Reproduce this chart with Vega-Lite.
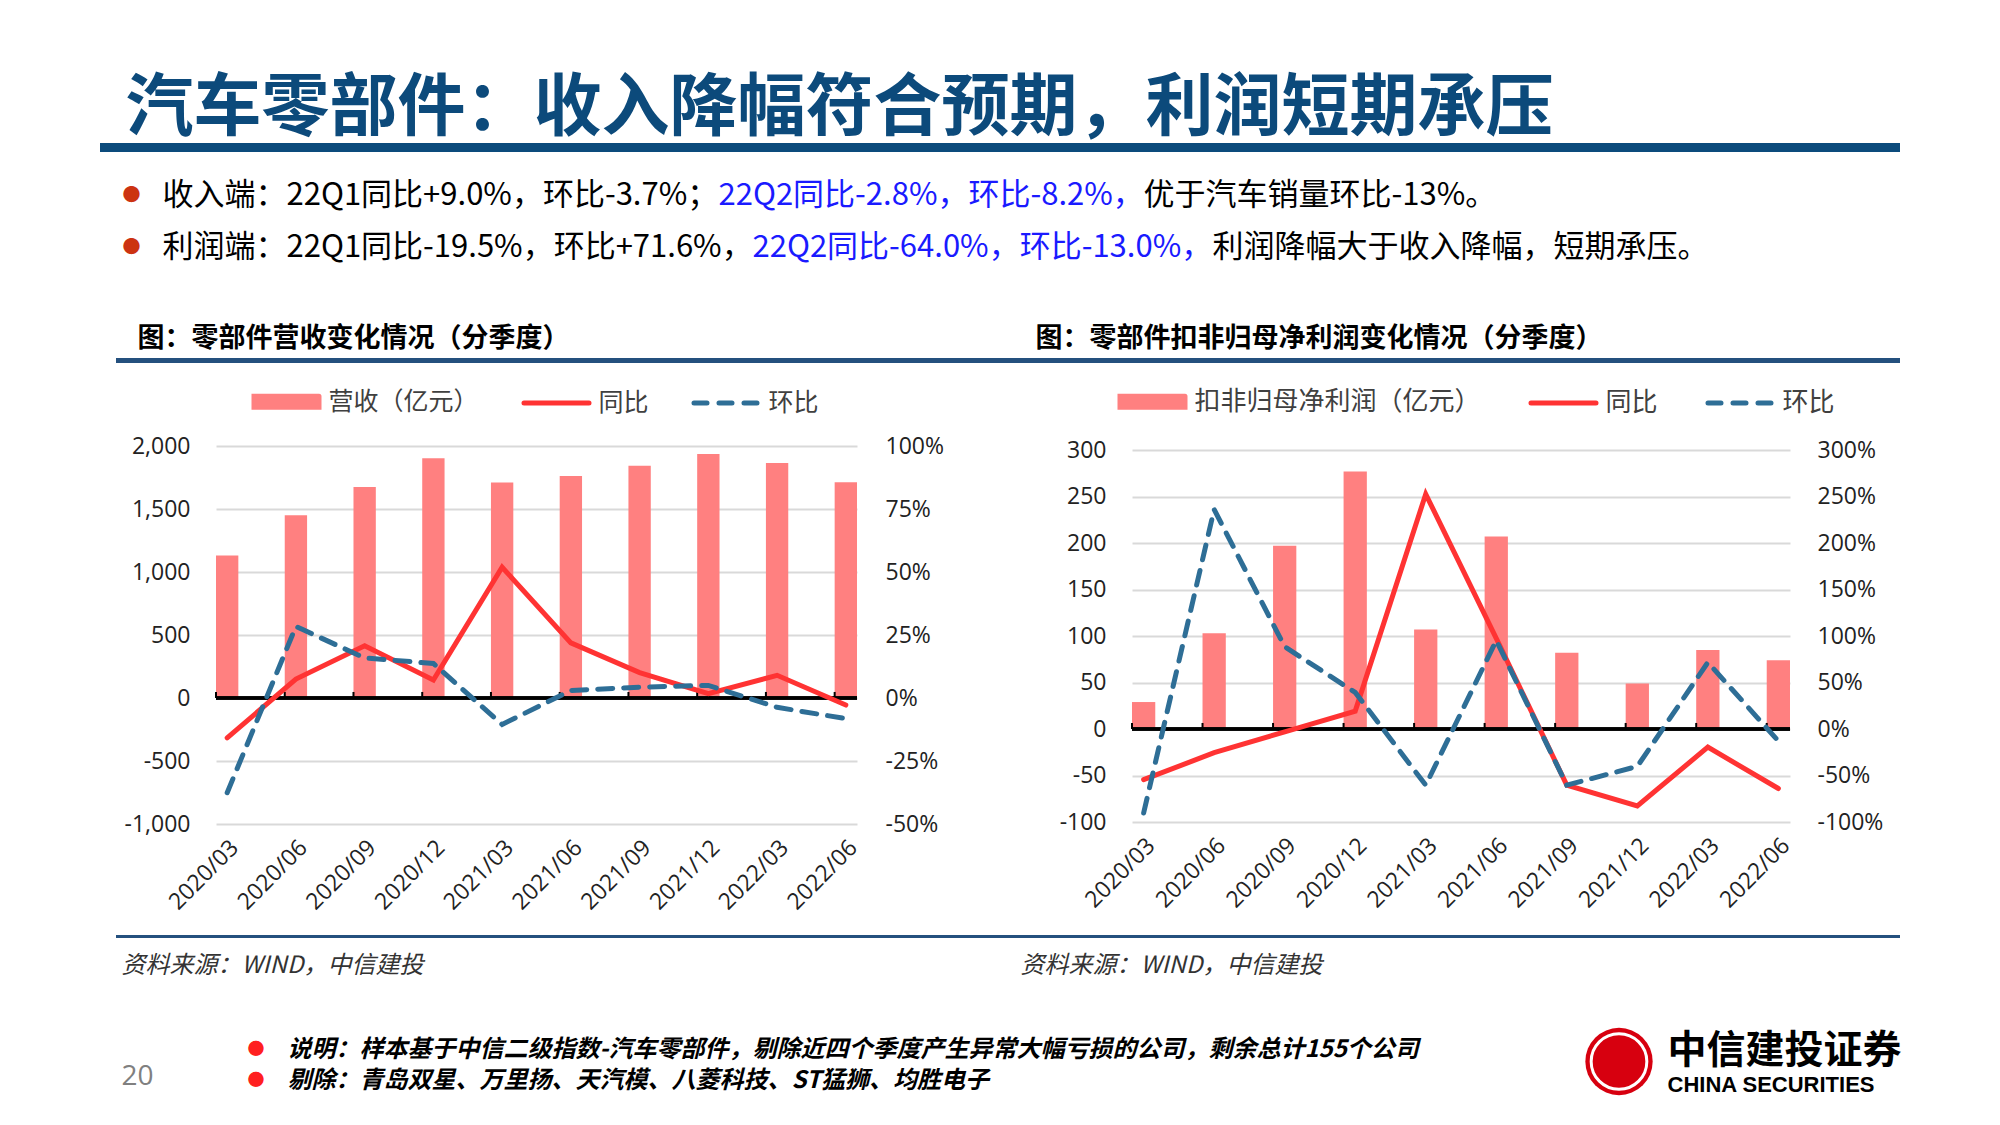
{
  "$schema": "https://vega.github.io/schema/vega-lite/v6.json",
  "background": "#ffffff",
  "padding": {"left": 100, "top": 0, "right": 0, "bottom": 0},
  "config": {"view": {"stroke": null}, "font": "Noto Sans CJK SC"},
  "spacing": 0,
  "bounds": "flush",
  "resolve": {"scale": {"color": "independent"}, "legend": {"color": "independent"}},
  "vconcat": [
    {"width": 1900, "height": 84, "data": {"values": [{}]}, "mark": {"type": "text", "text": ""}},
    {"spacing": 0, "bounds": "flush", "hconcat": [
      {"width": 25, "height": 52, "data": {"values": [{}]}, "mark": {"type": "text", "text": ""}},
      {"width": 1, "height": 52, "data": {"values": [{"t": "汽车零部件：收入降幅符合预期，利润短期承压"}]},
       "mark": {"type": "text", "align": "left", "baseline": "middle", "font": "Noto Sans CJK SC", "fontSize": 68, "fontWeight": "bold", "color": "#0c4a7b"},
       "encoding": {"text": {"field": "t", "type": "nominal"}}}
    ]},
    {"width": 1, "height": 59, "data": {"values": [{}]}, "mark": {"type": "text", "text": ""}},
    {"width": 1800, "height": 9, "data": {"values": [{}]}, "mark": {"type": "text", "text": ""}, "view": {"fill": "#0c4b7c", "stroke": null}},
    {"width": 1, "height": 29, "data": {"values": [{}]}, "mark": {"type": "text", "text": ""}},
    {"spacing": 0, "bounds": "flush", "hconcat": [
      {"width": 25, "height": 30, "data": {"values": [{}]}, "mark": {"type": "text", "text": ""}},
      {"width": 13, "height": 30, "data": {"values": [{"t": "●"}]},
       "mark": {"type": "text", "align": "center", "baseline": "middle", "fontSize": 18, "color": "#cc3311"},
       "encoding": {"text": {"field": "t", "type": "nominal"}}},
      {"width": 24, "height": 30, "data": {"values": [{}]}, "mark": {"type": "text", "text": ""}},
      {"width": 1, "height": 30, "data": {"values": [{"t": "收入端：22Q1同比+9.0%，环比-3.7%；"}]},
       "mark": {"type": "text", "align": "left", "baseline": "middle", "fontSize": 31, "color": "#000000"},
       "encoding": {"text": {"field": "t", "type": "nominal"}}},
      {"width": 555, "height": 30, "data": {"values": [{}]}, "mark": {"type": "text", "text": ""}},
      {"width": 1, "height": 30, "data": {"values": [{"t": "22Q2同比-2.8%，环比-8.2%，"}]},
       "mark": {"type": "text", "align": "left", "baseline": "middle", "fontSize": 31, "color": "#1a1aff"},
       "encoding": {"text": {"field": "t", "type": "nominal"}}},
      {"width": 424, "height": 30, "data": {"values": [{}]}, "mark": {"type": "text", "text": ""}},
      {"width": 1, "height": 30, "data": {"values": [{"t": "优于汽车销量环比-13%。"}]},
       "mark": {"type": "text", "align": "left", "baseline": "middle", "fontSize": 31, "color": "#000000"},
       "encoding": {"text": {"field": "t", "type": "nominal"}}}
    ]},
    {"width": 1, "height": 52, "data": {"values": [{}]}, "mark": {"type": "text", "text": ""}},
    {"spacing": 0, "bounds": "flush", "hconcat": [
      {"width": 25, "height": 30, "data": {"values": [{}]}, "mark": {"type": "text", "text": ""}},
      {"width": 13, "height": 30, "data": {"values": [{"t": "●"}]},
       "mark": {"type": "text", "align": "center", "baseline": "middle", "fontSize": 18, "color": "#cc3311"},
       "encoding": {"text": {"field": "t", "type": "nominal"}}},
      {"width": 24, "height": 30, "data": {"values": [{}]}, "mark": {"type": "text", "text": ""}},
      {"width": 1, "height": 30, "data": {"values": [{"t": "利润端：22Q1同比-19.5%，环比+71.6%，"}]},
       "mark": {"type": "text", "align": "left", "baseline": "middle", "fontSize": 31, "color": "#000000"},
       "encoding": {"text": {"field": "t", "type": "nominal"}}},
      {"width": 589, "height": 30, "data": {"values": [{}]}, "mark": {"type": "text", "text": ""}},
      {"width": 1, "height": 30, "data": {"values": [{"t": "22Q2同比-64.0%，环比-13.0%，"}]},
       "mark": {"type": "text", "align": "left", "baseline": "middle", "fontSize": 31, "color": "#1a1aff"},
       "encoding": {"text": {"field": "t", "type": "nominal"}}},
      {"width": 459, "height": 30, "data": {"values": [{}]}, "mark": {"type": "text", "text": ""}},
      {"width": 1, "height": 30, "data": {"values": [{"t": "利润降幅大于收入降幅，短期承压。"}]},
       "mark": {"type": "text", "align": "left", "baseline": "middle", "fontSize": 31, "color": "#000000"},
       "encoding": {"text": {"field": "t", "type": "nominal"}}}
    ]},
    {"width": 1, "height": 91, "data": {"values": [{}]}, "mark": {"type": "text", "text": ""}},
    {"spacing": 0, "bounds": "flush", "hconcat": [
      {"width": 37, "height": 30, "data": {"values": [{}]}, "mark": {"type": "text", "text": ""}},
      {"width": 1, "height": 30, "data": {"values": [{"t": "图：零部件营收变化情况（分季度）"}]},
       "mark": {"type": "text", "align": "left", "baseline": "middle", "fontSize": 27, "fontWeight": "bold", "color": "#000000"},
       "encoding": {"text": {"field": "t", "type": "nominal"}}},
      {"width": 897, "height": 30, "data": {"values": [{}]}, "mark": {"type": "text", "text": ""}},
      {"width": 1, "height": 30, "data": {"values": [{"t": "图：零部件扣非归母净利润变化情况（分季度）"}]},
       "mark": {"type": "text", "align": "left", "baseline": "middle", "fontSize": 27, "fontWeight": "bold", "color": "#000000"},
       "encoding": {"text": {"field": "t", "type": "nominal"}}}
    ]},
    {"width": 1, "height": 34, "data": {"values": [{}]}, "mark": {"type": "text", "text": ""}},
    {"spacing": 0, "bounds": "flush", "hconcat": [
      {"width": 16, "height": 5, "data": {"values": [{}]}, "mark": {"type": "text", "text": ""}},
      {"width": 1784, "height": 5, "data": {"values": [{}]}, "mark": {"type": "text", "text": ""}, "view": {"fill": "#24507e", "stroke": null}}
    ]},
    {"width": 1, "height": 88, "data": {"values": [{}]}, "mark": {"type": "text", "text": ""}},
    {"spacing": 0, "bounds": "flush",
     "resolve": {"scale": {"color": "independent"}, "legend": {"color": "independent"}},
     "hconcat": [
      {"width": 116, "height": 1, "data": {"values": [{}]}, "mark": {"type": "text", "text": ""}},
      {"width": 641, "height": 378,
       "data": {"values": [
         {"q": "2020/03", "rev": 1130, "同比": -0.158, "环比": -0.376},
         {"q": "2020/06", "rev": 1450, "同比": 0.075, "环比": 0.284},
         {"q": "2020/09", "rev": 1675, "同比": 0.207, "环比": 0.159},
         {"q": "2020/12", "rev": 1902, "同比": 0.071, "环比": 0.137},
         {"q": "2021/03", "rev": 1711, "同比": 0.519, "环比": -0.105},
         {"q": "2021/06", "rev": 1761, "同比": 0.219, "环比": 0.030},
         {"q": "2021/09", "rev": 1844, "同比": 0.101, "环比": 0.043},
         {"q": "2021/12", "rev": 1937, "同比": 0.017, "环比": 0.050},
         {"q": "2022/03", "rev": 1865, "同比": 0.090, "环比": -0.037},
         {"q": "2022/06", "rev": 1712, "同比": -0.028, "环比": -0.082}
       ]},
       "layer": [
         {"layer": [
           {"mark": {"type": "bar"},
            "encoding": {
              "x": {"field": "q", "type": "nominal", "sort": null,
                    "scale": {"paddingInner": 0.675, "paddingOuter": 0},
                    "axis": {"title": null, "labelAngle": -45, "labelFont": "Open Sans", "labelFontSize": 23, "labelColor": "#222222", "ticks": false, "domain": false, "labelPadding": 12, "grid": false}},
              "y": {"field": "rev", "type": "quantitative",
                    "scale": {"domain": [-1000, 2000], "nice": false, "zero": false},
                    "axis": {"title": null, "orient": "left", "values": [-1000, -500, 0, 500, 1000, 1500, 2000], "labelExpr": "replace(format(datum.value, ','), '−', '-')",
                             "labelFont": "Open Sans", "labelFontSize": 23, "labelColor": "#222222", "grid": true, "gridColor": "#d9d9d9", "gridWidth": 2, "domain": false, "ticks": false, "labelPadding": 26}},
              "color": {"datum": "营收（亿元）",
                        "scale": {"domain": ["营收（亿元）", "同比", "环比"], "range": ["#ff8080", "#ff3333", "#2e6e96"]},
                        "legend": {"orient": "none", "legendX": 35.5, "legendY": -79.5, "direction": "horizontal", "title": null,
                                   "symbolType": "stroke", "symbolSize": 4225, "symbolStrokeWidth": 5,
                                   "labelFont": "Noto Sans CJK SC", "labelFontSize": 25, "labelColor": "#404040", "labelOffset": 7, "labelLimit": 400, "columnPadding": 34,
                                   "encode": {"symbols": {"update": {
                                     "shape": {"signal": "((datum.value === '同比' || datum.value === '环比') ? 'stroke' : 'M-1,-0.17H1V0.17H-1Z')"},
                                     "fill": {"signal": "((datum.value === '同比' || datum.value === '环比') ? 'transparent' : '#ff8080')"},
                                     "stroke": {"signal": "(datum.value === '同比' ? '#ff3333' : datum.value === '环比' ? '#2e6e96' : 'transparent')"},
                                     "strokeWidth": {"value": 5},
                                     "strokeDash": {"signal": "(datum.value === '环比' ? [13, 12] : [1, 0])"},
                                     "strokeCap": {"value": "round"},
                                     "opacity": {"value": 1}}}}}}
            }},
           {"mark": {"type": "rule", "color": "#000000", "strokeWidth": 2.5}, "encoding": {"y": {"datum": 0}}},
           {"mark": {"type": "rule", "color": "#000000", "strokeWidth": 2},
            "encoding": {"x": {"field": "q", "type": "nominal", "sort": null, "bandPosition": 0}, "y": {"datum": 0}, "y2": {"datum": 48}}}
         ]},
         {"layer": [
           {"mark": {"type": "line", "strokeWidth": 5, "strokeCap": "round"},
            "encoding": {
              "x": {"field": "q", "type": "nominal", "sort": null},
              "y": {"field": "同比", "type": "quantitative",
                    "scale": {"domain": [-0.5, 1], "nice": false, "zero": false},
                    "axis": {"title": null, "orient": "right", "values": [-0.5, -0.25, 0, 0.25, 0.5, 0.75, 1], "labelExpr": "replace(format(datum.value, '.0%'), '−', '-')",
                             "labelFont": "Open Sans", "labelFontSize": 23, "labelColor": "#222222", "grid": false, "domain": false, "ticks": false, "labelPadding": 28}},
              "color": {"datum": "同比"}}},
           {"mark": {"type": "line", "strokeWidth": 5, "strokeCap": "round", "strokeDash": [15, 11]},
            "encoding": {
              "x": {"field": "q", "type": "nominal", "sort": null},
              "y": {"field": "环比", "type": "quantitative"},
              "color": {"datum": "环比"}}}
         ]}
       ],
       "resolve": {"scale": {"y": "independent"}}},
      {"width": 275, "height": 1, "data": {"values": [{}]}, "mark": {"type": "text", "text": ""}},
      {"spacing": 0, "bounds": "flush", "vconcat": [
        {"width": 1, "height": 4, "data": {"values": [{}]}, "mark": {"type": "text", "text": ""}},
        {"width": 658, "height": 372,
         "data": {"values": [
           {"q": "2020/03", "np": 29, "同比": -0.545, "环比": -0.903},
           {"q": "2020/06", "np": 103, "同比": -0.255, "环比": 2.36},
           {"q": "2020/09", "np": 197, "同比": -0.031, "环比": 0.885},
           {"q": "2020/12", "np": 277, "同比": 0.192, "环比": 0.393},
           {"q": "2021/03", "np": 107, "同比": 2.526, "环比": -0.604},
           {"q": "2021/06", "np": 207, "同比": 0.975, "环比": 0.952},
           {"q": "2021/09", "np": 82, "同比": -0.604, "环比": -0.604},
           {"q": "2021/12", "np": 49, "同比": -0.827, "环比": -0.402},
           {"q": "2022/03", "np": 85, "同比": -0.195, "环比": 0.716},
           {"q": "2022/06", "np": 74, "同比": -0.640, "环比": -0.130}
         ]},
         "layer": [
           {"layer": [
             {"mark": {"type": "bar"},
              "encoding": {
                "x": {"field": "q", "type": "nominal", "sort": null,
                      "scale": {"paddingInner": 0.67, "paddingOuter": 0},
                      "axis": {"title": null, "labelAngle": -45, "labelFont": "Open Sans", "labelFontSize": 23, "labelColor": "#222222", "ticks": false, "domain": false, "labelPadding": 12, "grid": false}},
                "y": {"field": "np", "type": "quantitative",
                      "scale": {"domain": [-100, 300], "nice": false, "zero": false},
                      "axis": {"title": null, "orient": "left", "values": [-100, -50, 0, 50, 100, 150, 200, 250, 300], "labelExpr": "replace(format(datum.value, 'd'), '−', '-')",
                               "labelFont": "Open Sans", "labelFontSize": 23, "labelColor": "#222222", "grid": true, "gridColor": "#d9d9d9", "gridWidth": 2, "domain": false, "ticks": false, "labelPadding": 26}},
                "color": {"datum": "扣非归母净利润（亿元）",
                          "scale": {"domain": ["扣非归母净利润（亿元）", "同比", "环比"], "range": ["#ff8080", "#ff3333", "#2e6e96"]},
                          "legend": {"orient": "none", "legendX": -14.5, "legendY": -79.5, "direction": "horizontal", "title": null,
                                     "symbolType": "stroke", "symbolSize": 4225, "symbolStrokeWidth": 5,
                                     "labelFont": "Noto Sans CJK SC", "labelFontSize": 26, "labelColor": "#404040", "labelOffset": 7, "labelLimit": 400, "columnPadding": 39,
                                     "encode": {"symbols": {"update": {
                                       "shape": {"signal": "((datum.value === '同比' || datum.value === '环比') ? 'stroke' : 'M-1,-0.17H1V0.17H-1Z')"},
                                       "fill": {"signal": "((datum.value === '同比' || datum.value === '环比') ? 'transparent' : '#ff8080')"},
                                       "stroke": {"signal": "(datum.value === '同比' ? '#ff3333' : datum.value === '环比' ? '#2e6e96' : 'transparent')"},
                                       "strokeWidth": {"value": 5},
                                       "strokeDash": {"signal": "(datum.value === '环比' ? [13, 12] : [1, 0])"},
                                       "strokeCap": {"value": "round"},
                                       "opacity": {"value": 1}}}}}}
              }},
             {"mark": {"type": "rule", "color": "#000000", "strokeWidth": 2.5}, "encoding": {"y": {"datum": 0}}},
             {"mark": {"type": "rule", "color": "#000000", "strokeWidth": 2},
              "encoding": {"x": {"field": "q", "type": "nominal", "sort": null, "bandPosition": 0}, "y": {"datum": 0}, "y2": {"datum": 6.5}}}
           ]},
           {"layer": [
             {"mark": {"type": "line", "strokeWidth": 5, "strokeCap": "round"},
              "encoding": {
                "x": {"field": "q", "type": "nominal", "sort": null},
                "y": {"field": "同比", "type": "quantitative",
                      "scale": {"domain": [-1, 3], "nice": false, "zero": false},
                      "axis": {"title": null, "orient": "right", "values": [-1, -0.5, 0, 0.5, 1, 1.5, 2, 2.5, 3], "labelExpr": "replace(format(datum.value, '.0%'), '−', '-')",
                               "labelFont": "Open Sans", "labelFontSize": 23, "labelColor": "#222222", "grid": false, "domain": false, "ticks": false, "labelPadding": 27}},
                "color": {"datum": "同比"}}},
             {"mark": {"type": "line", "strokeWidth": 5, "strokeCap": "round", "strokeDash": [15, 11]},
              "encoding": {
                "x": {"field": "q", "type": "nominal", "sort": null},
                "y": {"field": "环比", "type": "quantitative"},
                "color": {"datum": "环比"}}}
           ]}
         ],
         "resolve": {"scale": {"y": "independent"}}}
      ]}
    ]},
    {"width": 1, "height": 489, "data": {"values": [{}]}, "mark": {"type": "text", "text": ""}},
    {"spacing": 0, "bounds": "flush", "hconcat": [
      {"width": 16, "height": 3, "data": {"values": [{}]}, "mark": {"type": "text", "text": ""}},
      {"width": 1784, "height": 3, "data": {"values": [{}]}, "mark": {"type": "text", "text": ""}, "view": {"fill": "#24507e", "stroke": null}}
    ]},
    {"width": 1, "height": 18, "data": {"values": [{}]}, "mark": {"type": "text", "text": ""}},
    {"spacing": 0, "bounds": "flush", "hconcat": [
      {"width": 21, "height": 26, "data": {"values": [{}]}, "mark": {"type": "text", "text": ""}},
      {"width": 1, "height": 26, "data": {"values": [{"t": "资料来源：WIND，中信建投"}]},
       "mark": {"type": "text", "align": "left", "baseline": "middle", "fontSize": 24, "fontStyle": "italic", "color": "#333333"},
       "encoding": {"text": {"field": "t", "type": "nominal"}}},
      {"width": 898, "height": 26, "data": {"values": [{}]}, "mark": {"type": "text", "text": ""}},
      {"width": 1, "height": 26, "data": {"values": [{"t": "资料来源：WIND，中信建投"}]},
       "mark": {"type": "text", "align": "left", "baseline": "middle", "fontSize": 24, "fontStyle": "italic", "color": "#333333"},
       "encoding": {"text": {"field": "t", "type": "nominal"}}}
    ]},
    {"width": 1, "height": 81, "data": {"values": [{}]}, "mark": {"type": "text", "text": ""}},
    {"spacing": 0, "bounds": "flush", "hconcat": [
      {"width": 21, "height": 85, "data": {"values": [{}]}, "mark": {"type": "text", "text": ""}},
      {"width": 1, "height": 85, "data": {"values": [{"t": "20"}]},
       "mark": {"type": "text", "align": "left", "baseline": "middle", "font": "Open Sans", "fontSize": 28, "color": "#808080"},
       "encoding": {"text": {"field": "t", "type": "nominal"}}},
      {"width": 128, "height": 85, "data": {"values": [{}]}, "mark": {"type": "text", "text": ""}},
      {"width": 12, "height": 62, "data": {"values": [{"line": 1}, {"line": 2}]},
       "mark": {"type": "text", "text": "●", "align": "center", "baseline": "middle", "fontSize": 17, "color": "#ff2020"},
       "encoding": {"y": {"field": "line", "type": "ordinal", "scale": {"type": "point", "padding": 0.5}, "axis": null}}},
      {"width": 25, "height": 85, "data": {"values": [{}]}, "mark": {"type": "text", "text": ""}},
      {"width": 1, "height": 62, "data": {"values": [
         {"line": 1, "t": "说明：样本基于中信二级指数-汽车零部件，剔除近四个季度产生异常大幅亏损的公司，剩余总计155个公司"},
         {"line": 2, "t": "剔除：青岛双星、万里扬、天汽模、八菱科技、ST猛狮、均胜电子"}]},
       "mark": {"type": "text", "align": "left", "baseline": "middle", "fontSize": 24, "fontWeight": "bold", "fontStyle": "italic", "color": "#000000"},
       "encoding": {"y": {"field": "line", "type": "ordinal", "scale": {"type": "point", "padding": 0.5}, "axis": null}, "text": {"field": "t", "type": "nominal"}}},
      {"width": 1293, "height": 85, "data": {"values": [{}]}, "mark": {"type": "text", "text": ""}},
      {"width": 76, "height": 55, "data": {"values": [{}]},
       "layer": [
         {"mark": {"type": "point", "shape": "circle", "filled": true, "color": "#d7000f", "opacity": 1, "size": 4530}},
         {"mark": {"type": "point", "shape": "circle", "filled": false, "color": "#ffffff", "opacity": 1, "strokeWidth": 3, "size": 3100}}
       ]},
      {"width": 10, "height": 85, "data": {"values": [{}]}, "mark": {"type": "text", "text": ""}},
      {"spacing": 0, "bounds": "flush", "vconcat": [
        {"width": 1, "height": 33, "data": {"values": [{"t": "中信建投证券"}]},
         "mark": {"type": "text", "align": "left", "baseline": "middle", "fontSize": 39, "fontWeight": "bold", "color": "#000000"},
         "encoding": {"text": {"field": "t", "type": "nominal"}}},
        {"width": 1, "height": 35, "data": {"values": [{"t": "CHINA SECURITIES"}]},
         "mark": {"type": "text", "align": "left", "baseline": "middle", "font": "Liberation Sans", "fontSize": 22, "fontWeight": "bold", "color": "#000000"},
         "encoding": {"text": {"field": "t", "type": "nominal"}}}
      ]}
    ]},
    {"width": 1, "height": 91, "data": {"values": [{}]}, "mark": {"type": "text", "text": ""}}
  ]
}
